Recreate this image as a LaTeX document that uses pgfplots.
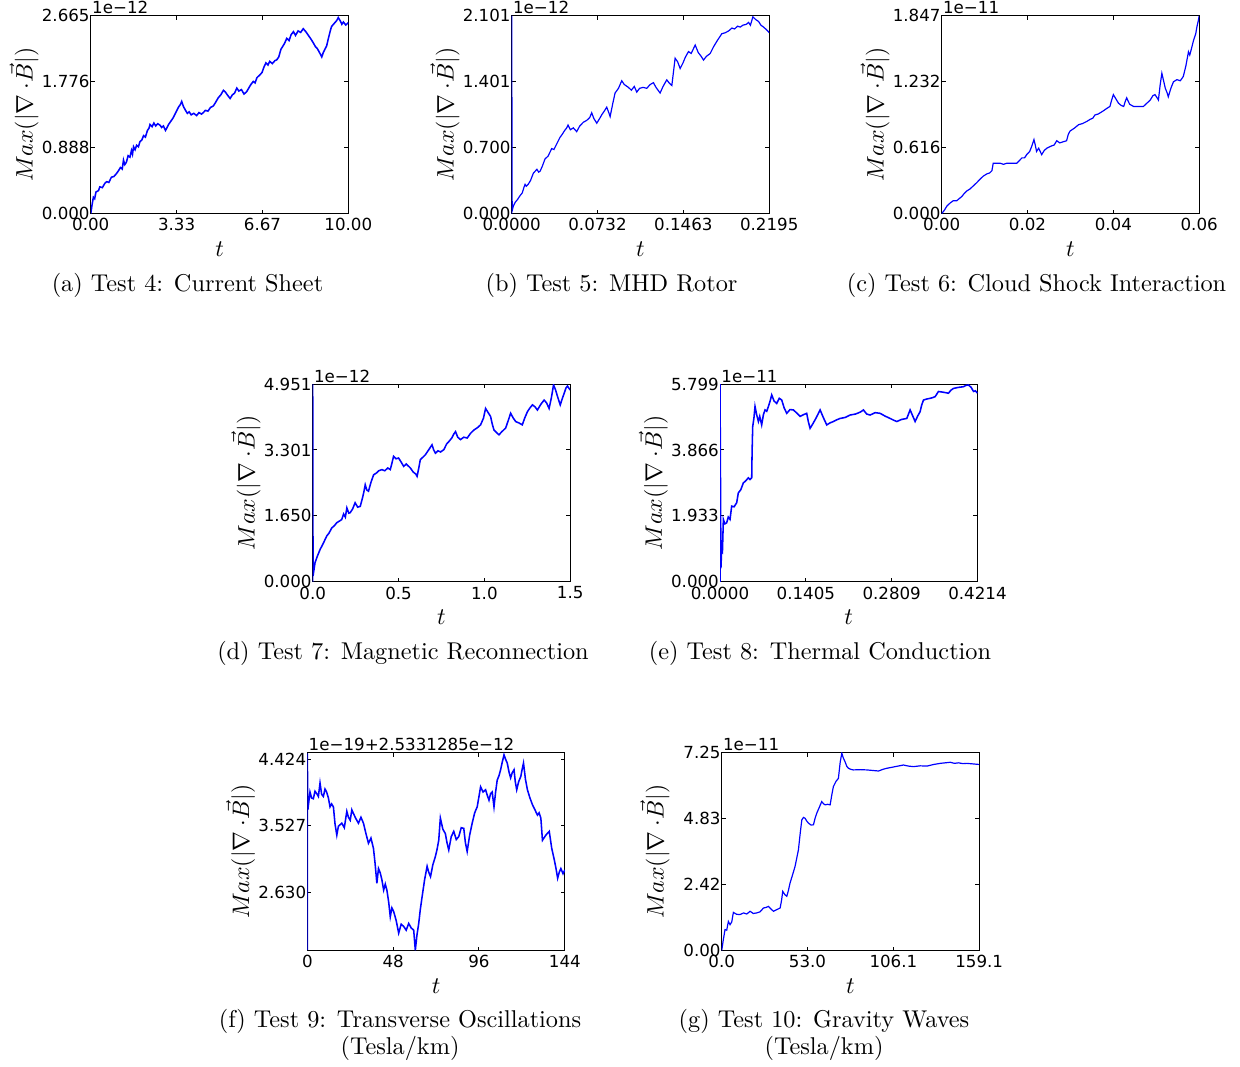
\documentclass[border=0pt]{standalone}
\usepackage{fontspec}
\usepackage{pgfplots}
\pgfplotsset{compat=1.18}
\newfontfamily\tickfont{DejaVu Sans}
\def\px{0.42pt}

\pgfplotsset{
  panel/.style={
    scale only axis, width=108.15pt, height=83.1pt, anchor=north west,
    axis line style={line width=0.42pt},
    every tick/.style={black, line width=0.42pt},
    major tick length=1.7pt, tick align=inside, tick pos=both,
    tick label style={font=\tickfont\fontsize{7}{8}\selectfont},
    yticklabel style={anchor=east, inner sep=0pt, xshift=-0.3pt},
    xticklabel style={anchor=north, inner sep=0pt, yshift=-1.8pt},
    scaled ticks=false,
    xlabel={$t$}, ylabel={$Max(|\nabla\mskip\medmuskip{\cdot}\vec{B}|)$},
    every axis x label/.style={at={(axis description cs:0.5,-0.215)}, anchor=base},
    every axis y label/.style={at={(axis description cs:-0.226,0.5)}, rotate=90, anchor=base},
    clip mode=individual,
  },
  curve/.style={color=blue, line width=0.5pt, mark=none},
  noisy/.style={color=blue, line width=0.65pt, mark=none},
}
\newcommand\offsettext[1]{\node[anchor=base west, inner sep=0pt, xshift=0.4pt, yshift=0.8pt,
  font=\tickfont\fontsize{7}{8}\selectfont] at (rel axis cs:0,1) {#1};}

\begin{document}
\begin{tikzpicture}
\path[use as bounding box] (0,0) rectangle ({1240*\px},{-1066*\px});

% (a) Current sheet
\begin{axis}[panel, at={({90.8*\px},{-15.7*\px})},
  xmin=0, xmax=10, ymin=0, ymax=2.665,
  xtick={0,3.3333,6.6667,10}, xticklabels={0.00,3.33,6.67,10.00},
  ytick={0,0.888,1.776,2.665}, yticklabels={0.000,0.888,1.776,2.665}]
\addplot[noisy] coordinates {
(0,0) (0.05,0.12) (0.1,0.22) (0.15,0.20) (0.2,0.29) (0.3,0.31) (0.35,0.36) (0.45,0.35)
(0.55,0.41) (0.62,0.43) (0.7,0.42) (0.8,0.49) (0.9,0.50) (1.0,0.54) (1.08,0.58) (1.15,0.62)
(1.22,0.60) (1.27,0.72) (1.32,0.66) (1.38,0.69) (1.45,0.78) (1.52,0.76) (1.58,0.85) (1.62,0.80)
(1.66,0.90) (1.72,0.86) (1.78,0.92) (1.85,0.90) (1.91,0.97) (1.98,0.99) (2.05,1.05) (2.12,1.03)
(2.2,1.12) (2.26,1.15) (2.3,1.20) (2.38,1.17) (2.45,1.22) (2.52,1.18) (2.6,1.21) (2.69,1.19)
(2.75,1.16) (2.82,1.18) (2.9,1.12) (2.95,1.15) (3.02,1.20) (3.1,1.24) (3.2,1.29) (3.3,1.36)
(3.4,1.43) (3.48,1.47) (3.53,1.51) (3.6,1.44) (3.68,1.39) (3.75,1.35) (3.82,1.37) (3.9,1.33)
(4.0,1.35) (4.11,1.32) (4.2,1.36) (4.3,1.34) (4.37,1.36) (4.45,1.39) (4.55,1.38) (4.65,1.43)
(4.76,1.45) (4.85,1.50) (4.95,1.56) (5.05,1.60) (5.15,1.66) (5.22,1.64) (5.3,1.60) (5.41,1.55)
(5.5,1.60) (5.58,1.62) (5.67,1.69) (5.75,1.65) (5.85,1.67) (5.95,1.61) (6.05,1.64) (6.15,1.70)
(6.22,1.74) (6.31,1.78) (6.38,1.76) (6.45,1.83) (6.57,1.87) (6.65,1.90) (6.72,1.97) (6.8,2.03)
(6.88,2.00) (6.95,2.05) (7.05,2.02) (7.15,2.06) (7.22,2.07) (7.3,2.11) (7.38,2.21) (7.45,2.25)
(7.52,2.29) (7.61,2.36) (7.7,2.33) (7.78,2.41) (7.87,2.45) (7.95,2.40) (8.05,2.46) (8.15,2.44)
(8.25,2.49) (8.35,2.45) (8.45,2.40) (8.55,2.35) (8.64,2.30) (8.72,2.25) (8.8,2.22) (8.88,2.17)
(8.97,2.11) (9.03,2.17) (9.1,2.22) (9.16,2.26) (9.22,2.35) (9.3,2.46) (9.35,2.52) (9.45,2.56)
(9.55,2.60) (9.61,2.64) (9.68,2.60) (9.75,2.55) (9.81,2.58) (9.9,2.54) (10.0,2.57)};
\offsettext{1e−12}
\end{axis}

% (b) MHD rotor
\begin{axis}[panel, at={({511.7*\px},{-15.7*\px})},
  xmin=0, xmax=0.2195, ymin=0, ymax=2.101,
  xtick={0,0.07317,0.14633,0.2195}, xticklabels={0.0000,0.0732,0.1463,0.2195},
  ytick={0,0.7003,1.4007,2.101}, yticklabels={0.000,0.700,1.401,2.101}]
\addplot[curve] coordinates {
(0,0) (0,2.101) (0.0004,0.03) (0.0014,0.08) (0.003,0.12) (0.005,0.15) (0.0071,0.19) (0.009,0.22)
(0.0105,0.28) (0.0114,0.31) (0.0125,0.29) (0.014,0.31) (0.016,0.35) (0.0185,0.43) (0.02,0.45)
(0.0215,0.47) (0.023,0.44) (0.0242,0.45) (0.026,0.50) (0.0284,0.58) (0.031,0.61) (0.0341,0.69)
(0.036,0.68) (0.038,0.73) (0.0412,0.81) (0.043,0.84) (0.045,0.88) (0.0469,0.91) (0.048,0.94)
(0.05,0.89) (0.0525,0.91) (0.0554,0.87) (0.058,0.93) (0.0611,0.97) (0.064,0.99) (0.0665,1.02)
(0.0682,1.07) (0.07,1.01) (0.0725,0.96) (0.075,1.01) (0.0768,1.05) (0.079,1.09) (0.081,1.13)
(0.0825,1.08) (0.0839,1.03) (0.086,1.16) (0.0881,1.28) (0.091,1.33) (0.0938,1.41) (0.096,1.37)
(0.0995,1.34) (0.102,1.31) (0.1045,1.35) (0.1066,1.29) (0.109,1.33) (0.112,1.34) (0.1151,1.33)
(0.118,1.37) (0.1208,1.39) (0.123,1.34) (0.1265,1.28) (0.129,1.35) (0.1322,1.42) (0.134,1.39)
(0.1365,1.36) (0.1393,1.65) (0.1415,1.61) (0.1436,1.54) (0.146,1.60) (0.148,1.66) (0.1507,1.72)
(0.153,1.70) (0.1564,1.79) (0.159,1.71) (0.1615,1.67) (0.1635,1.63) (0.166,1.67) (0.1692,1.70)
(0.172,1.77) (0.1749,1.83) (0.177,1.87) (0.1791,1.91) (0.182,1.92) (0.185,1.94) (0.1877,1.97)
(0.19,1.96) (0.1925,1.99) (0.1948,1.98) (0.197,2.00) (0.2,2.01) (0.2019,2.03) (0.2035,2.00)
(0.2056,2.09) (0.208,2.06) (0.2104,2.04) (0.2125,2.00) (0.2147,1.98) (0.2165,1.96) (0.2189,1.93)
(0.2195,1.92)};
\offsettext{1e−12}
\end{axis}

% (c) Cloud shock interaction
\begin{axis}[panel, at={({941.7*\px},{-15.7*\px})},
  xmin=0, xmax=0.06, ymin=0, ymax=1.847,
  xtick={0,0.02,0.04,0.06}, xticklabels={0.00,0.02,0.04,0.06},
  ytick={0,0.6157,1.2313,1.847}, yticklabels={0.000,0.616,1.232,1.847}]
\addplot[curve] coordinates {
(0,0) (0.0006,0.03) (0.0012,0.07) (0.002,0.10) (0.0027,0.12) (0.0035,0.12) (0.0047,0.16)
(0.0053,0.19) (0.0058,0.21) (0.0066,0.23) (0.0074,0.26) (0.0082,0.29) (0.0089,0.32) (0.0097,0.35)
(0.0105,0.37) (0.0112,0.38) (0.0117,0.40) (0.012,0.47) (0.0128,0.47) (0.0136,0.47) (0.0144,0.46)
(0.0152,0.47) (0.0163,0.47) (0.0175,0.47) (0.0187,0.52) (0.0193,0.52) (0.0198,0.55) (0.0205,0.58)
(0.021,0.63) (0.0215,0.69) (0.0218,0.64) (0.0221,0.58) (0.0226,0.61) (0.0233,0.55) (0.0239,0.59)
(0.0245,0.61) (0.0255,0.63) (0.0262,0.64) (0.0268,0.68) (0.0275,0.66) (0.0283,0.67) (0.0291,0.68)
(0.0295,0.74) (0.0299,0.77) (0.031,0.80) (0.0319,0.83) (0.0328,0.84) (0.0338,0.86) (0.0346,0.88)
(0.0352,0.89) (0.0357,0.92) (0.0365,0.93) (0.0377,0.96) (0.0384,0.98) (0.0392,1.00) (0.0396,1.06)
(0.04,1.11) (0.0406,1.07) (0.0412,1.03) (0.0418,1.01) (0.0424,1.00) (0.0428,1.05) (0.0431,1.08)
(0.0438,1.02) (0.0447,1.00) (0.046,1.00) (0.047,1.00) (0.0478,1.03) (0.0486,1.06) (0.0492,1.10)
(0.0497,1.11) (0.0502,1.08) (0.0505,1.06) (0.0509,1.20) (0.0513,1.31) (0.0517,1.24) (0.0521,1.17)
(0.0525,1.13) (0.0528,1.09) (0.0534,1.17) (0.054,1.23) (0.0548,1.25) (0.0556,1.24) (0.0563,1.28)
(0.0569,1.38) (0.0575,1.51) (0.0578,1.48) (0.0582,1.54) (0.0587,1.62) (0.0592,1.68) (0.0595,1.75)
(0.0598,1.80) (0.06,1.847)};
\offsettext{1e−11}
\end{axis}

% (d) Magnetic reconnection
\begin{axis}[panel, at={({312.7*\px},{-384*\px})},
  xmin=0, xmax=1.5, ymin=0, ymax=4.951,
  xtick={0,0.5,1.0,1.5}, xticklabels={0.0,0.5,1.0,1.5},
  ytick={0,1.6503,3.3007,4.951}, yticklabels={0.000,1.650,3.301,4.951}]
\addplot[noisy] coordinates {
(0,0) (0,4.951) (0.002,0.15) (0.0136,0.48) (0.025,0.62) (0.043,0.81) (0.06,0.95) (0.082,1.15)
(0.095,1.22) (0.111,1.35) (0.125,1.40) (0.14,1.48) (0.155,1.52) (0.169,1.56) (0.18,1.70)
(0.19,1.62) (0.199,1.85) (0.21,1.72) (0.218,1.73) (0.232,1.82) (0.247,1.98) (0.262,1.87)
(0.277,1.89) (0.29,2.10) (0.298,2.25) (0.306,2.43) (0.315,2.30) (0.325,2.27) (0.34,2.50)
(0.355,2.68) (0.37,2.72) (0.385,2.78) (0.403,2.81) (0.42,2.78) (0.437,2.85) (0.452,2.81)
(0.462,2.98) (0.471,3.14) (0.485,3.08) (0.5,3.10) (0.515,3.00) (0.53,2.89) (0.545,2.95)
(0.569,2.85) (0.585,2.75) (0.6,2.70) (0.608,2.64) (0.618,2.85) (0.627,3.06) (0.642,3.12)
(0.656,3.18) (0.675,3.30) (0.695,3.43) (0.705,3.30) (0.715,3.22) (0.73,3.28) (0.745,3.25)
(0.764,3.31) (0.78,3.45) (0.793,3.51) (0.81,3.60) (0.822,3.70) (0.832,3.76) (0.845,3.62)
(0.861,3.56) (0.88,3.62) (0.9,3.60) (0.92,3.72) (0.939,3.80) (0.96,3.86) (0.978,3.93)
(0.995,4.10) (1.007,4.34) (1.02,4.25) (1.036,4.14) (1.046,3.95) (1.056,3.80) (1.07,3.74)
(1.085,3.68) (1.1,3.75) (1.124,3.85) (1.14,4.05) (1.153,4.22) (1.168,4.10) (1.183,4.01)
(1.2,3.98) (1.221,3.93) (1.235,4.10) (1.251,4.26) (1.265,4.35) (1.28,4.43) (1.295,4.38)
(1.309,4.30) (1.33,4.45) (1.348,4.55) (1.362,4.48) (1.377,4.34) (1.39,4.60) (1.403,4.93)
(1.415,4.80) (1.426,4.64) (1.435,4.52) (1.442,4.43) (1.455,4.60) (1.465,4.72) (1.475,4.85)
(1.484,4.90) (1.492,4.85) (1.5,4.80)};
\offsettext{1e−12}
\end{axis}

% (e) Thermal conduction
\begin{axis}[panel, at={({720*\px},{-384*\px})},
  xmin=0, xmax=0.4214, ymin=0, ymax=5.799,
  xtick={0,0.14047,0.28093,0.4214}, xticklabels={0.0000,0.1405,0.2809,0.4214},
  ytick={0,1.933,3.866,5.799}, yticklabels={0.000,1.933,3.866,5.799}]
\addplot[noisy] coordinates {
(0,0) (0,5.799) (0.0015,0.40) (0.0027,0.95) (0.004,0.90) (0.0055,1.83) (0.008,1.70) (0.0109,1.73)
(0.0135,1.90) (0.0164,1.83) (0.0191,2.22) (0.023,2.20) (0.0273,2.32) (0.03,2.61) (0.034,2.70)
(0.0382,2.90) (0.042,2.96) (0.0464,3.05) (0.049,3.00) (0.0519,3.05) (0.0525,3.80) (0.0535,4.55)
(0.0555,4.80) (0.0573,5.14) (0.06,4.90) (0.0628,4.70) (0.065,4.85) (0.0682,4.60) (0.071,4.90)
(0.0737,5.04) (0.0765,5.00) (0.0792,5.14) (0.082,5.30) (0.0846,5.48) (0.0885,5.30) (0.0928,5.23)
(0.097,5.38) (0.101,5.33) (0.105,5.10) (0.1092,4.94) (0.1145,5.05) (0.1201,5.04) (0.1255,4.95)
(0.131,4.85) (0.1365,4.90) (0.1419,4.94) (0.1445,4.70) (0.1474,4.50) (0.1515,4.62) (0.1556,4.75)
(0.16,4.90) (0.1638,5.04) (0.1695,4.80) (0.1747,4.60) (0.18,4.66) (0.1856,4.70) (0.191,4.75)
(0.1965,4.79) (0.205,4.82) (0.2129,4.89) (0.222,4.92) (0.23,4.98) (0.2347,5.04) (0.24,4.92)
(0.2456,4.89) (0.254,4.96) (0.262,4.94) (0.27,4.86) (0.2784,4.79) (0.284,4.74) (0.2893,4.70)
(0.297,4.76) (0.3057,4.79) (0.3085,4.92) (0.3111,5.04) (0.315,4.88) (0.3193,4.70) (0.3235,4.86)
(0.3275,4.99) (0.33,5.18) (0.333,5.33) (0.3385,5.36) (0.3439,5.38) (0.348,5.40) (0.3521,5.43)
(0.3575,5.58) (0.365,5.56) (0.3739,5.53) (0.378,5.62) (0.3821,5.67) (0.39,5.70) (0.3985,5.72)
(0.4025,5.76) (0.4067,5.77) (0.411,5.70) (0.4149,5.58) (0.418,5.60) (0.4214,5.53)};
\offsettext{1e−11}
\end{axis}

% (f) Transverse oscillations
\begin{axis}[panel, at={({307.3*\px},{-752.7*\px})},
  xmin=0, xmax=144, ymin=1.845, ymax=4.509,
  xtick={0,48,96,144}, xticklabels={0,48,96,144},
  ytick={2.630,3.527,4.424}, yticklabels={2.630,3.527,4.424}]
\addplot[noisy] coordinates {
(0,1.85) (0,4.50) (0.3,3.74) (1.5,3.98) (2.4,3.90) (3.37,3.89) (4.3,3.99) (5.24,3.96) (6.2,3.92)
(7.11,4.10) (8.0,3.95) (8.98,3.92) (9.9,4.02) (10.8,3.98) (11.8,3.90) (12.7,3.78) (13.6,3.82)
(14.6,3.78) (15.5,3.55) (16.5,3.40) (17.4,3.52) (19.3,3.56) (20.7,3.50) (22.1,3.72) (23.0,3.64)
(24.0,3.60) (24.9,3.74) (25.8,3.69) (27.2,3.62) (28.6,3.56) (30.0,3.64) (31.4,3.56) (32.8,3.42)
(34.2,3.29) (35.6,3.36) (37.0,3.22) (37.9,3.02) (38.9,2.75) (39.8,2.95) (40.8,2.89) (41.7,2.80)
(42.7,2.66) (43.6,2.74) (44.5,2.66) (45.5,2.50) (46.4,2.30) (47.3,2.42) (48.3,2.37) (49.7,2.25)
(51.1,2.08) (52.5,2.20) (53.9,2.17) (55.3,2.12) (56.7,2.21) (58.1,2.15) (59.5,2.12) (60.4,1.85)
(61.3,2.05) (62.3,2.21) (63.2,2.40) (64.2,2.57) (65.6,2.80) (67.0,2.98) (67.9,2.90) (68.9,2.84)
(70.2,3.00) (71.6,3.11) (72.5,3.20) (73.5,3.33) (74.4,3.63) (75.8,3.48) (77.2,3.42) (78.1,3.30)
(79.1,3.20) (80.5,3.38) (81.9,3.45) (83.3,3.34) (84.7,3.38) (86.1,3.50) (87.5,3.49) (88.4,3.30)
(89.4,3.18) (90.8,3.40) (92.2,3.56) (93.6,3.70) (95.0,3.78) (96.0,3.92) (96.9,4.05) (98.3,3.98)
(99.7,4.01) (100.6,3.94) (101.6,3.87) (102.5,3.96) (103.4,3.98) (104.4,3.78) (105.3,3.98)
(106.2,4.14) (107.2,4.20) (108.1,4.28) (109.0,4.38) (110.0,4.48) (110.9,4.42) (111.8,4.37)
(112.8,4.25) (113.7,4.17) (114.6,4.24) (115.6,4.28) (116.3,4.12) (117.1,4.01) (118.2,4.12)
(119.4,4.19) (120.1,4.28) (120.9,4.37) (122.0,4.15) (123.1,4.01) (124.5,3.90) (125.9,3.81)
(127.3,3.74) (128.7,3.67) (129.6,3.70) (130.6,3.63) (131.5,3.33) (133.4,3.40) (135.3,3.45)
(136.7,3.22) (138.1,3.07) (139.0,2.96) (140.0,2.82) (140.9,2.90) (141.8,2.95) (143.0,2.88)
(144,2.93)};
\offsettext{1e−19+2.5331285e−12}
\end{axis}

% (g) Gravity waves
\begin{axis}[panel, at={({721.7*\px},{-752.7*\px})},
  xmin=0, xmax=159.1, ymin=0, ymax=7.25,
  xtick={0,53.033,106.067,159.1}, xticklabels={0.0,53.0,106.1,159.1},
  ytick={0,2.4167,4.8333,7.25}, yticklabels={0.00,2.42,4.83,7.25}]
\addplot[curve] coordinates {
(0,0) (1.0,0.40) (2.06,0.77) (3.1,0.75) (4.12,1.07) (5.15,0.95) (6.2,1.05) (7.21,1.40) (9.2,1.33)
(11.3,1.32) (13.5,1.38) (15.5,1.34) (17.5,1.44) (19.5,1.36) (21.6,1.38) (23.7,1.42) (25.8,1.56)
(27.3,1.58) (28.9,1.62) (30.5,1.52) (32.0,1.44) (34.0,1.50) (36.1,1.56) (37.0,1.85) (37.7,2.17)
(39.0,2.05) (40.2,1.99) (41.2,2.20) (42.2,2.47) (43.8,2.78) (45.3,3.08) (46.4,3.40) (47.4,3.69)
(48.5,4.30) (49.5,4.79) (50.5,4.88) (51.5,4.85) (52.5,4.75) (53.6,4.67) (55.2,4.60) (56.7,4.61)
(57.7,4.85) (58.7,5.03) (60.3,5.25) (61.8,5.46) (62.9,5.38) (63.9,5.34) (65.5,5.36) (67.0,5.34)
(68.0,5.70) (69.0,6.01) (70.6,6.20) (72.1,6.31) (73.2,6.90) (74.2,7.23) (75.2,7.05) (76.2,6.92)
(77.3,6.75) (78.3,6.68) (79.8,6.64) (81.4,6.62) (85.5,6.63) (89.6,6.62) (93.3,6.60) (96.9,6.58)
(99.5,6.64) (102.0,6.68) (107.2,6.74) (112.3,6.80) (115.4,6.76) (118.5,6.74) (122.6,6.77)
(126.8,6.76) (131.0,6.82) (135.0,6.86) (138.1,6.88) (141.2,6.90) (143.8,6.86) (146.3,6.88)
(149.0,6.85) (151.5,6.86) (155.3,6.84) (159.1,6.82)};
\offsettext{1e−11}
\end{axis}

% sub-figure captions
\begin{scope}[every node/.style={anchor=base, inner sep=0pt, font=\fontsize{10.2}{12}\selectfont}]
\node at ({187.5*\px},{-291*\px}) {(a) Test 4: Current Sheet};
\node at ({611.5*\px},{-291*\px}) {(b) Test 5: MHD Rotor};
\node at ({1036.5*\px},{-291*\px}) {(c) Test 6: Cloud Shock Interaction};
\node at ({403*\px},{-659.7*\px}) {(d) Test 7: Magnetic Reconnection};
\node at ({820*\px},{-659.7*\px}) {(e) Test 8: Thermal Conduction};
\node at ({400*\px},{-1027.7*\px}) {(f) Test 9: Transverse Oscillations};
\node at ({400*\px},{-1054.4*\px}) {(Tesla/km)};
\node at ({824*\px},{-1027.7*\px}) {(g) Test 10: Gravity Waves};
\node at ({824*\px},{-1054.4*\px}) {(Tesla/km)};
\end{scope}
\end{tikzpicture}
\end{document}
